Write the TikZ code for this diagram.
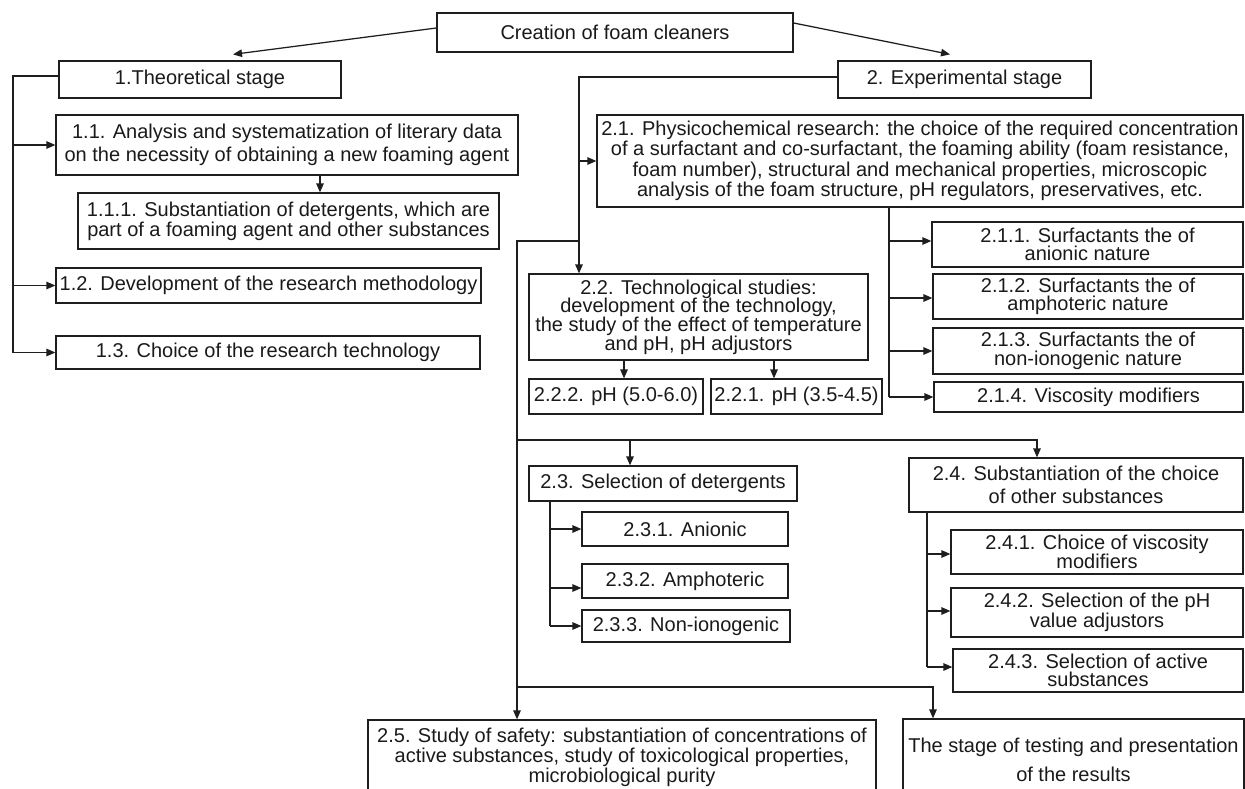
\documentclass[tikz,border=0pt]{standalone}
\usepackage{fontspec}
\setmainfont{Liberation Sans}
\usetikzlibrary{arrows.meta}
\definecolor{linec}{HTML}{1E1E1E}
\definecolor{textc}{HTML}{1A1A1A}
\begin{document}
\begin{tikzpicture}[x=1pt,y=-1pt,
  box/.style={draw=linec,line width=1.25pt,inner sep=0pt,align=center,text=textc,font=\fontsize{20}{23}\selectfont},
  tight/.style={font=\fontsize{20}{18.5}\selectfont},
  conn/.style={draw=linec,line width=1.25pt},
  arr/.style={conn,-{Triangle[length=9pt,width=7.5pt]}}]
\useasboundingbox (0,0) rectangle (1245,789);
\clip (0,0) rectangle (1245,789);
\fill[white] (0,0) rectangle (1245,789);

% top
\node[box,minimum width=356pt,minimum height=39pt] (top) at (615,32.5) {Creation of foam cleaners};
\node[box,minimum width=282pt,minimum height=37pt] (theo) at (200,79.5) {1.Theoretical stage};
\node[box,minimum width=253pt,minimum height=37pt] (exp) at (964.5,79.5) {2. Experimental stage};

% theoretical branch
\node[box,minimum width=462pt,minimum height=60pt] (b11) at (287,145) {1.1. Analysis and systematization of literary data\\on the necessity of obtaining a new foaming agent};
\node[box,minimum width=421pt,minimum height=56pt,font=\fontsize{20}{20}\selectfont] (b111) at (288.5,221) {1.1.1. Substantiation of detergents, which are\\part of a foaming agent and other substances};
\node[box,minimum width=425pt,minimum height=35pt] (b12) at (268.5,285.5) {1.2. Development of the research methodology};
\node[box,minimum width=424pt,minimum height=33pt] (b13) at (268,352.5) {1.3. Choice of the research technology};

% experimental branch
\node[box,minimum width=646pt,minimum height=92pt,font=\fontsize{20}{20.5}\selectfont] (b21) at (920,161) {2.1. Physicochemical research: the choice of the required concentration\\of a surfactant and co-surfactant, the foaming ability (foam resistance,\\foam number), structural and mechanical properties, microscopic\\analysis of the foam structure, pH regulators, preservatives, etc.};
\node[box,tight,minimum width=311pt,minimum height=45pt] (b211) at (1087.5,244.5) {2.1.1. Surfactants the of\\anionic nature};
\node[box,tight,minimum width=310pt,minimum height=45pt] (b212) at (1088,296.5) {2.1.2. Surfactants the of\\amphoteric nature};
\node[box,tight,minimum width=310pt,minimum height=46pt] (b213) at (1088,351) {2.1.3. Surfactants the of\\non-ionogenic nature};
\node[box,minimum width=309pt,minimum height=30pt] (b214) at (1088.5,397) {2.1.4. Viscosity modifiers};

\node[box,minimum width=339pt,minimum height=86pt,font=\fontsize{20}{18.7}\selectfont] (b22) at (698.5,317) {2.2. Technological studies:\\development of the technology,\\the study of the effect of temperature\\and pH, pH adjustors};
\node[box,minimum width=174pt,minimum height=35pt] (b222) at (616,396.5) {2.2.2. pH (5.0-6.0)};
\node[box,minimum width=171pt,minimum height=35pt] (b221) at (796.5,396.5) {2.2.1. pH (3.5-4.5)};

\node[box,minimum width=268pt,minimum height=35pt] (b23) at (663,483.5) {2.3. Selection of detergents};
\node[box,minimum width=206pt,minimum height=34pt] (b231) at (685,529) {2.3.1. Anionic};
\node[box,minimum width=206pt,minimum height=34pt] (b232) at (685,581) {2.3.2. Amphoteric};
\node[box,minimum width=208pt,minimum height=32pt] (b233) at (686,626) {2.3.3. Non-ionogenic};

\node[box,minimum width=334pt,minimum height=54pt] (b24) at (1076,485) {2.4. Substantiation of the choice\\of other substances};
\node[box,tight,minimum width=292pt,minimum height=44pt] (b241) at (1097,552) {2.4.1. Choice of viscosity\\modifiers};
\node[box,tight,minimum width=292pt,minimum height=49pt] (b242) at (1097,612.5) {2.4.2. Selection of the pH\\value adjustors};
\node[box,tight,minimum width=290pt,minimum height=43pt] (b243) at (1098,670.5) {2.4.3. Selection of active\\substances};

\node[box,minimum width=508pt,minimum height=74pt,font=\fontsize{20}{20}\selectfont] (b25) at (622,757) {2.5. Study of safety: substantiation of concentrations of\\active substances, study of toxicological properties,\\microbiological purity};
\node[box,minimum width=341pt,minimum height=81pt,font=\fontsize{20}{29}\selectfont] (stage) at (1073.5,759.5) {The stage of testing and presentation\\of the results};

% connectors from the top
\draw[arr] ([yshift=4.5pt]top.west) -- ([xshift=33pt,yshift=6pt]theo.north);
\draw[arr] ([yshift=9.5pt]top.east) -- ([xshift=-14.5pt,yshift=6pt]exp.north);

% theoretical bracket
\coordinate (tl) at (13,76);
\draw[conn] (tl -| theo.west) -- (tl) -- (tl |- b13.west);
\draw[arr] (tl |- b11.west) -- (b11.west);
\draw[arr] (tl |- b12.west) -- (b12.west);
\draw[arr] (tl |- b13.west) -- (b13.west);
\coordinate (a111) at ([xshift=31.5pt]b111.north);
\draw[arr] (b11.south -| a111) -- (a111);

% experimental spine
\coordinate (ev) at (579,77);
\draw[arr] (ev -| exp.west) -- (ev) -- (ev |- b22.north);
\draw[arr] (ev |- b21.west) -- (b21.west);
\coordinate (mv) at (517,241);
\coordinate (a25) at ([xshift=-105pt]b25.north);
\draw[arr] (ev |- mv) -- (mv) -- (mv |- a25);

% 2.1 children
\coordinate (v21) at (889,0);
\draw[conn] (v21 |- b21.south) -- (v21 |- b214.west);
\draw[arr] (v21 |- b211.west) ++(0,-3.5) -- ([yshift=3.5pt]b211.west);
\draw[arr] (v21 |- b212.west) ++(0,1.5) -- ([yshift=-1.5pt]b212.west);
\draw[arr] (v21 |- b213.west) -- (b213.west);
\draw[arr] (v21 |- b214.west) -- (b214.west);

% 2.2 children
\coordinate (a222) at ([xshift=8pt]b222.north);
\coordinate (a221) at ([xshift=-22.5pt]b221.north);
\draw[arr] (b22.south -| a222) -- (a222);
\draw[arr] (b22.south -| a221) -- (a221);

% 2.3 and 2.4
\coordinate (h1) at (1037,440);
\coordinate (a23) at (630,440);
\draw[arr] (mv |- h1) -- (h1) -- (h1 |- b24.north);
\draw[arr] (a23) -- (a23 |- b23.north);

\coordinate (v23) at (550,0);
\draw[conn] (v23 |- b23.south) -- (v23 |- b233.west);
\draw[arr] (v23 |- b231.west) -- (b231.west);
\draw[arr] (v23 |- b232.west) ++(0,7) -- ([yshift=-7pt]b232.west);
\draw[arr] (v23 |- b233.west) -- (b233.west);

\coordinate (v24) at (927,0);
\coordinate (e243) at ([yshift=3.5pt]b243.west);
\draw[conn] (v24 |- b24.south) -- (v24 |- e243);
\draw[arr] (v24 |- b241.west) ++(0,2) -- ([yshift=-2pt]b241.west);
\draw[arr] (v24 |- b242.west) ++(0,-1.5) -- ([yshift=1.5pt]b242.west);
\draw[arr] (v24 |- e243) -- (e243);

% final stage
\coordinate (h2) at (933,687);
\draw[arr] (mv |- h2) -- (h2) -- (h2 |- stage.north);
\end{tikzpicture}
\end{document}
